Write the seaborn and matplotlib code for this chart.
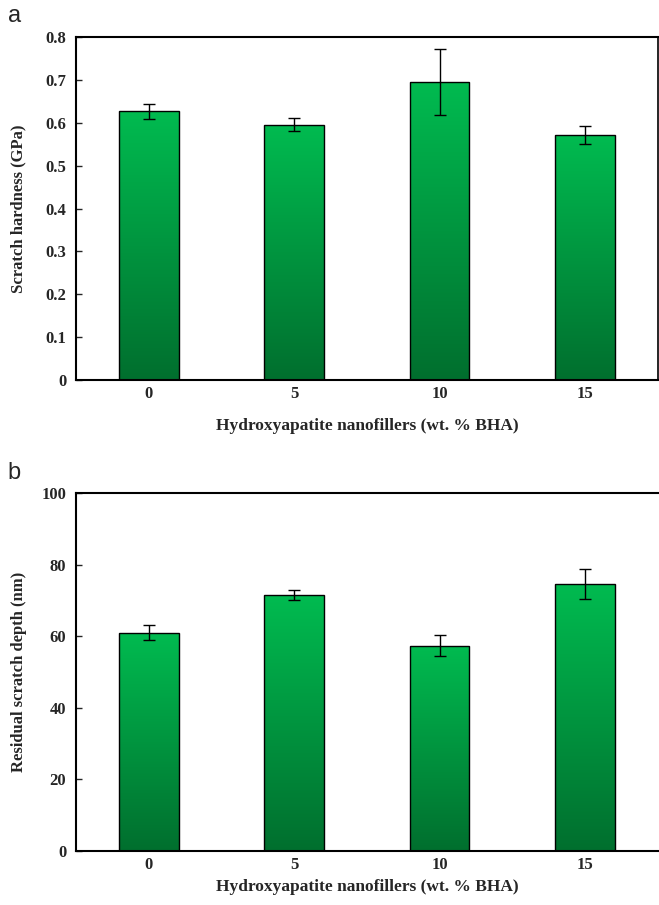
import numpy as np
import pandas as pd
import matplotlib
matplotlib.use("Agg")
import matplotlib.pyplot as plt
from matplotlib.colors import LinearSegmentedColormap
import seaborn as sns

# data
loading = ["0", "5", "10", "15"]
hardness = [0.627, 0.596, 0.696, 0.571]
hardness_err = [0.018, 0.016, 0.077, 0.021]
depth = [61.0, 71.5, 57.4, 74.6]
depth_err = [2.1, 1.5, 2.9, 4.2]

sns.set_style("white")
plt.rcParams['font.family'] = ['Liberation Serif', 'DejaVu Serif']
plt.rcParams['font.weight'] = 'bold'

green = LinearSegmentedColormap.from_list("g", ["#006f2e", "#00bb50"])
grad = np.linspace(0, 1, 256).reshape(-1, 1)

fig = plt.figure(figsize=(6.59, 9.05), dpi=100)
ax_a = fig.add_axes([0.1153, 0.580, 0.883, 0.379])
ax_b = fig.add_axes([0.1153, 0.0597, 0.883, 0.3955])


def draw(ax, vals, errs, ymax, ystep, ylabel, fmt, right_spine, xpad):
    df = pd.DataFrame({"x": loading, "y": vals})
    sns.barplot(data=df, x="x", y="y", ax=ax, width=0.41, color="#00a040",
                edgecolor="black", linewidth=1.0, errorbar=None)
    # vertical gradient fill, light on top, dark at the base
    for p in ax.patches:
        x0, y0 = p.get_x(), p.get_y()
        w, h = p.get_width(), p.get_height()
        im = ax.imshow(grad, cmap=green, origin="lower", aspect="auto",
                       extent=[x0, x0 + w, y0, y0 + h], zorder=p.get_zorder() + 0.1)
        im.set_clip_path(p)
        p.set_facecolor("none")
        p.set_zorder(p.get_zorder() + 0.2)
    ax.errorbar(range(len(vals)), vals, yerr=errs, fmt="none", ecolor="black",
                elinewidth=1.0, capsize=4, capthick=1.0, zorder=5)
    ax.set_xlim(-0.5, 3.5)
    ax.set_ylim(0, ymax)
    ticks = np.arange(0, ymax + ystep / 2, ystep)
    ax.set_yticks(ticks)
    ax.set_yticklabels([fmt(t) for t in ticks], fontsize=12, fontweight="bold")
    ax.set_xticks(range(4))
    ax.set_xticklabels(loading, fontsize=12, fontweight="bold")
    ax.tick_params(axis="y", direction="in", length=4, width=1, pad=7, left=True)
    ax.tick_params(axis="x", length=0, pad=4)
    ax.set_xlabel("Hydroxyapatite nanofillers (wt. % BHA)", fontsize=12.5,
                  fontweight="bold", labelpad=xpad)
    ax.set_ylabel(ylabel, fontsize=12, fontweight="bold")
    ax.yaxis.set_label_coords(-0.085, 0.5)
    for s in ["left", "bottom", "top"]:
        ax.spines[s].set_visible(True)
        ax.spines[s].set_color("black")
        ax.spines[s].set_linewidth(1.5)
    ax.spines["right"].set_visible(right_spine)
    ax.spines["right"].set_color("black")
    ax.spines["right"].set_linewidth(1.2)


draw(ax_a, hardness, hardness_err, 0.8, 0.1, "Scratch hardness (GPa)",
     lambda t: "0" if t == 0 else f"{t:.1f}", True, 12)
draw(ax_b, depth, depth_err, 100, 20, "Residual scratch depth (nm)",
     lambda t: f"{t:.0f}", False, 5)

fig.text(0.012, 0.976, "a", fontsize=17, family="Liberation Sans", fontweight="normal")
fig.text(0.012, 0.471, "b", fontsize=17, family="Liberation Sans", fontweight="normal")

fig.savefig("out.png", dpi=100)
